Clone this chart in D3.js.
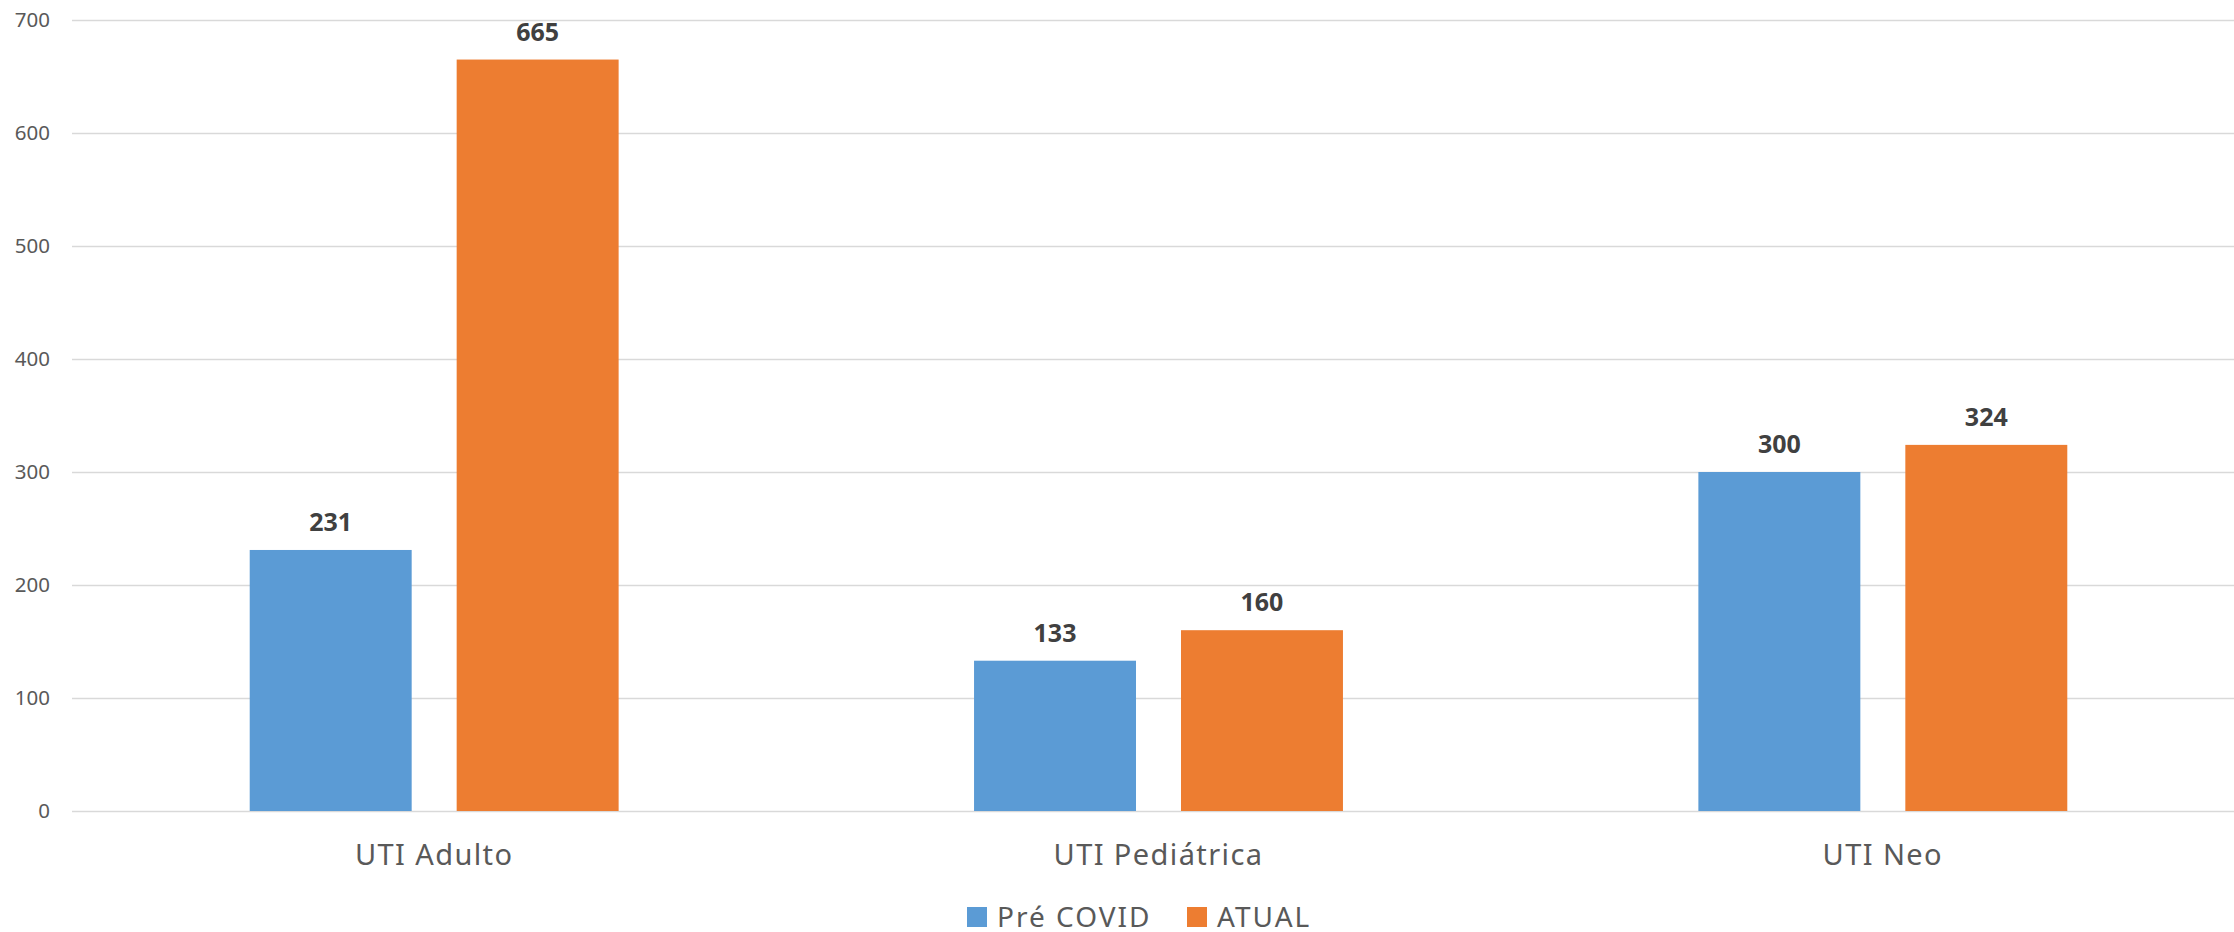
<!DOCTYPE html>
<html>
<head>
<meta charset="utf-8">
<script src="https://cdn.jsdelivr.net/npm/d3@7"></script>
<style>
  body { margin: 0; background: #fff; }
  svg { display: block; }
  svg text { font-family: "Noto Sans", "Open Sans", sans-serif; }
</style>
</head>
<body>
<div id="chart"></div>
<script>
const categories = ["UTI Adulto", "UTI Pediátrica", "UTI Neo"];
const seriesNames = ["Pré COVID", "ATUAL"];
const preCovid = [231, 133, 300];
const atual = [665, 160, 324];
const yTicks = [0, 100, 200, 300, 400, 500, 600, 700];
const colors = ["#5b9bd5", "#ed7d31"];

const width = 2234;
const height = 932;

const svg = d3
  .select("#chart")
  .append("svg")
  .attr("width", width)
  .attr("height", height);

const x0 = d3.scaleBand().domain(categories).range([72, 2245]).padding(0);
const x1 = d3
  .scaleBand()
  .domain(seriesNames)
  .range([0, x0.bandwidth()])
  .paddingInner(0.2174)
  .paddingOuter(0.8587);
const y = d3.scaleLinear().domain([0, 700]).range([811, 20]);

// gridlines + y labels
const yAxis = g =>
  g
    .attr("transform", "translate(72,0)")
    .call(d3.axisLeft(y).tickValues(yTicks).tickSize(-(width - 72)).tickPadding(22))
    .call(g => g.select(".domain").remove())
    .call(g => g.selectAll(".tick line").attr("stroke", "#d9d9d9").attr("stroke-width", 1.6))
    .call(g =>
      g.selectAll(".tick text")
        .attr("fill", "#595959")
        .style("font-size", "20.5px")
    );
svg.append("g").call(yAxis);

const rows = categories.map((c, i) => ({
  category: c,
  values: [preCovid[i], atual[i]]
}));

const groups = svg
  .selectAll("g.cat")
  .data(rows)
  .enter()
  .append("g")
  .attr("class", "cat")
  .attr("transform", d => `translate(${x0(d.category)},0)`);

groups
  .selectAll("rect")
  .data(d => d.values.map((v, j) => ({ key: seriesNames[j], value: v, j })))
  .enter()
  .append("rect")
  .attr("x", d => x1(d.key))
  .attr("y", d => y(d.value))
  .attr("width", x1.bandwidth())
  .attr("height", d => y(0) - y(d.value))
  .attr("fill", d => colors[d.j]);

groups
  .selectAll("text.val")
  .data(d => d.values.map((v, j) => ({ key: seriesNames[j], value: v })))
  .enter()
  .append("text")
  .attr("class", "val")
  .attr("x", d => x1(d.key) + x1.bandwidth() / 2)
  .attr("y", d => y(d.value) - 19)
  .attr("text-anchor", "middle")
  .attr("fill", "#404040")
  .style("font-size", "25px")
  .style("font-weight", "bold")
  .text(d => d.value);

// category labels
const xAxis = g =>
  g
    .attr("transform", "translate(0,811)")
    .call(d3.axisBottom(x0).tickSize(0).tickPadding(33))
    .call(g => g.select(".domain").remove())
    .call(g =>
      g.selectAll(".tick text")
        .attr("fill", "#595959")
        .style("font-size", "29px")
        .style("letter-spacing", "1.4px")
    );
svg.append("g").call(xAxis);

// legend
const legend = svg.append("g").attr("transform", "translate(967,907)");
const legendX = [0, 220];
const item = legend
  .selectAll("g")
  .data(seriesNames)
  .enter()
  .append("g")
  .attr("transform", (d, i) => `translate(${legendX[i]},0)`);
item
  .append("rect")
  .attr("width", 20)
  .attr("height", 20)
  .attr("fill", (d, i) => colors[i]);
item
  .append("text")
  .attr("x", 30)
  .attr("y", 20)
  .attr("fill", "#595959")
  .style("font-size", "28px")
  .style("letter-spacing", "2px")
  .text(d => d);
</script>
</body>
</html>
